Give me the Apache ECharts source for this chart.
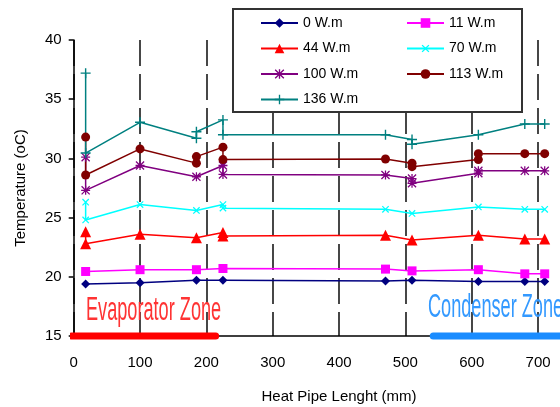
<!DOCTYPE html>
<html><head><meta charset="utf-8">
<script src="https://cdn.jsdelivr.net/npm/echarts@6/dist/echarts.min.js"></script>
<style>html,body{margin:0;padding:0;background:#fff}#c{width:560px;height:407px}</style>
</head><body><div id="c"></div>
<script>
// ---- data ----
const seriesNames = ['0 W.m','11 W.m','44 W.m','70 W.m','100 W.m','113 W.m','136 W.m'];
const x0 = [18,100,185,225,470,510,610,680,710];
const y0 = [19.4,19.5,19.7,19.7,19.65,19.7,19.6,19.6,19.6];
const x11 = [18,100,185,225,470,510,610,680,710];
const y11 = [20.45,20.6,20.6,20.7,20.65,20.5,20.6,20.25,20.25];
const x44 = [18,18,100,185,225,225,470,510,610,680,710];
const y44 = [23.8,22.8,23.6,23.3,23.75,23.45,23.5,23.1,23.5,23.2,23.2];
const x70 = [18,18,100,185,225,225,470,510,610,680,710];
const y70 = [26.3,24.8,26.1,25.6,26.1,25.8,25.7,25.35,25.9,25.7,25.7];
const x100 = [18,18,100,185,225,225,470,510,510,610,610,680,710];
const y100 = [30.1,27.3,29.4,28.45,29.4,28.65,28.6,28.3,27.9,28.75,28.95,28.95,28.95];
const x113 = [18,18,100,185,185,225,225,470,510,510,610,610,680,710];
const y113 = [31.8,28.6,30.8,29.6,30.15,30.95,29.9,29.95,29.6,29.3,29.9,30.4,30.4,30.4];
const x136 = [18,18,100,185,185,225,225,470,510,510,610,680,710];
const y136 = [37.2,30.45,33.05,31.7,32.25,33.25,32.0,32.0,31.6,31.2,32.0,32.9,32.9];
const evapZoneX = [-3,214];
const condZoneX = [542,800];
const zoneY = 15;
const evapText = 'Evaporator Zone', condText = 'Condenser Zone';
const evapTextPos = [18.5,17.1];
const condTextPos = [534,17.4];
const xTicks = {min:0,max:800,interval:100};
const yTicks = {min:15,max:40,interval:5};

// ---- styles ----
const FONT = "'Liberation Sans', Arial, sans-serif";
const colors = ['#000080','#ff00ff','#ff0000','#00ffff','#800080','#800000','#008080'];
const plusPath = 'path://M4.3,0H5.7V4.3H10V5.7H5.7V10H4.3V5.7H0V4.3H4.3Z';
const astPath = 'path://M4.3,0H5.7V4.3H10V5.7H5.7V10H4.3V5.7H0V4.3H4.3Z M0,1L1,0L10,9L9,10Z M9,0L10,1L1,10L0,9Z';
const symDefs = [
  {symbol:'diamond',size:9,rot:0},
  {symbol:'rect',size:9,rot:0},
  {symbol:'triangle',size:11,rot:0},
  {symbol:plusPath,size:9,rot:45},
  {symbol:astPath,size:9,rot:0},
  {symbol:'circle',size:9,rot:0},
  {symbol:plusPath,size:10,rot:0}
];
const xs = [x0,x11,x44,x70,x100,x113,x136];
const ys = [y0,y11,y44,y70,y100,y113,y136];

const chart = echarts.init(document.getElementById('c'));
const series = seriesNames.map((n,i)=>({
  name:n, type:'line', data: xs[i].map((x,j)=>[x, ys[i][j]]),
  symbol: symDefs[i].symbol, symbolSize: symDefs[i].size, symbolRotate: symDefs[i].rot,
  lineStyle:{color:colors[i],width:1.5}, itemStyle:{color:colors[i]},
  z:3, animation:false
}));
series.push({type:'line', data: evapZoneX.map(x=>[x,zoneY]), symbol:'none', clip:false,
  lineStyle:{color:'#ff0000',width:7,cap:'round'}, z:6, silent:true, animation:false});
series.push({type:'line', data: condZoneX.map(x=>[x,zoneY]), symbol:'none', clip:false,
  lineStyle:{color:'#1a8cff',width:7,cap:'round'}, z:6, silent:true, animation:false});

const legendCommon = {orient:'vertical', itemWidth:37, itemHeight:12, itemGap:11.5,
  textStyle:{fontFamily:FONT,fontSize:14,color:'#000'}, z:10, selectedMode:false};

chart.setOption({
  animation:false,
  textStyle:{fontFamily:FONT},
  grid:{left:73.7, top:40, height:296, width:530.7, outerBoundsMode:'none', containLabel:false},
  xAxis:{type:'value', min:xTicks.min, max:xTicks.max, interval:xTicks.interval,
    name:'Heat Pipe Lenght (mm)', nameLocation:'middle', nameGap:53,
    nameTextStyle:{fontFamily:FONT,fontSize:15,color:'#000'},
    axisLine:{lineStyle:{color:'#000',width:1.5}}, axisTick:{show:false},
    axisLabel:{fontFamily:FONT,fontSize:15,color:'#000',margin:19,showMaxLabel:false},
    splitLine:{show:true,lineStyle:{color:'#333',width:1.8,type:[26,8]}}},
  yAxis:{type:'value', min:yTicks.min, max:yTicks.max, interval:yTicks.interval,
    name:'Temperature (oC)', nameLocation:'middle', nameGap:45,
    nameTextStyle:{fontFamily:FONT,fontSize:15,color:'#000'},
    axisLine:{show:true,lineStyle:{color:'#000',width:1.5}},
    axisTick:{show:true,length:5,lineStyle:{color:'#000',width:1.5}},
    axisLabel:{fontFamily:FONT,fontSize:15,color:'#000',margin:12},
    splitLine:{show:false}},
  legend:[
    Object.assign({left:255, top:11, data:[seriesNames[0],seriesNames[2],seriesNames[4],seriesNames[6]]}, legendCommon),
    Object.assign({left:401, top:11, data:[seriesNames[1],seriesNames[3],seriesNames[5]]}, legendCommon)
  ],
  series: series
});

const p1 = chart.convertToPixel({gridIndex:0}, evapTextPos);
const p2 = chart.convertToPixel({gridIndex:0}, condTextPos);
chart.setOption({graphic:[
  {type:'rect', shape:{x:233,y:9,width:289,height:103}, style:{fill:'#fff',stroke:'#333',lineWidth:2}, z:8, silent:true},
  {type:'text', x:p1[0], y:p1[1], scaleX:0.55, z:9, silent:true,
    style:{text:evapText, fill:'#ff3333', font:"33px 'Liberation Sans', Arial", textAlign:'left', textVerticalAlign:'middle'}},
  {type:'text', x:p2[0], y:p2[1], scaleX:0.55, z:9, silent:true,
    style:{text:condText, fill:'#3399ff', font:"33px 'Liberation Sans', Arial", textAlign:'left', textVerticalAlign:'middle'}}
]});
</script></body></html>
